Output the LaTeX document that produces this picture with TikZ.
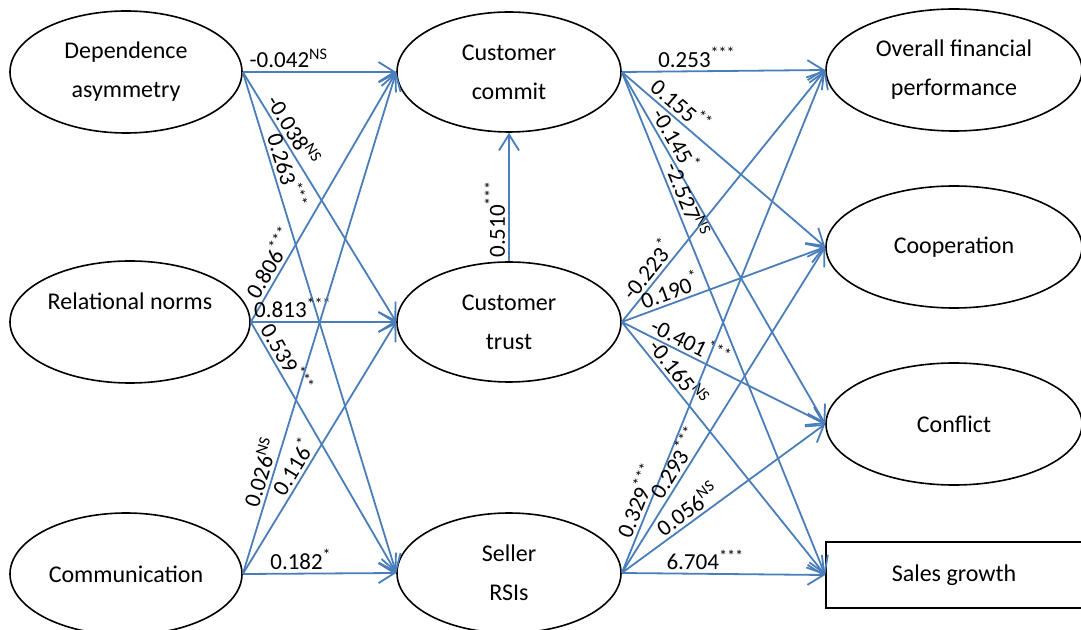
\documentclass[tikz,border=0pt]{standalone}
\usepackage{fontspec}
\setmainfont{Carlito}
\usetikzlibrary{arrows.meta,shapes.geometric}
\definecolor{pathblue}{RGB}{74,126,187}

\begin{document}
\begin{tikzpicture}[x=0.5pt,y=-0.5pt]

\tikzset{vertex/.style = {shape=ellipse,draw,line width=0.8pt,inner sep=0pt,minimum width=116pt,minimum height=61pt,align=center,font=\fontsize{12}{19.5}\selectfont}}
\tikzset{box/.style = {shape=rectangle,draw,line width=0.8pt,inner sep=0pt,minimum width=128pt,minimum height=33pt,font=\fontsize{12}{19.5}\selectfont}}
\tikzset{edge/.style = {-{Straight Barb[length=8pt,width=10pt]},draw=pathblue,line width=0.9pt}}
\tikzset{coef/.style = {sloped,above,inner sep=1.5pt,font=\fontsize{11.5}{14}\selectfont}}

\useasboundingbox (0,0) rectangle (1081,630);

% vertices
\node[vertex] (da) at (126,72) {Dependence\\asymmetry};
\node[vertex,minimum width=120pt,text height=8pt,text depth=20pt] (rn) at (130,322) {Relational norms};
\node[vertex] (cm) at (126,574) {Communication};

\node[vertex,minimum width=112pt,minimum height=60pt] (cc) at (509,72) {Customer\\commit};
\node[vertex,minimum width=112pt,minimum height=60pt] (ct) at (509,322) {Customer\\trust};
\node[vertex,minimum width=112pt,minimum height=60pt] (sr) at (509,573) {Seller\\RSIs};

\node[vertex,minimum width=128pt] (of) at (954,70) {Overall financial\\performance};
\node[vertex,minimum width=128pt] (co) at (954,247) {Cooperation};
\node[vertex,minimum width=128pt] (cf) at (954,424) {Conflict};
\node[box] (sg) at (954,575) {Sales growth};

% antecedents
\draw[edge] (da.east) to node[coef,pos=0.30] {-0.042\textsuperscript{NS}} (cc.west);
\draw[edge] (da.east) to node[coef,pos=0.26] {-0.038\textsuperscript{NS}} (ct.west);
\draw[edge] (da.east) to node[coef,pos=0.205] {0.263\textsuperscript{***}} (sr.west);
\draw[edge] (rn.east) to node[coef,pos=0.21] {0.806\textsuperscript{***}} (cc.west);
\draw[edge] (rn.east) to node[coef,pos=0.29] {0.813\textsuperscript{***}} (ct.west);
\draw[edge] (rn.east) to node[coef,pos=0.17] {0.539\textsuperscript{***}} (sr.west);
\draw[edge] (cm.east) to node[coef,pos=0.195] {0.026\textsuperscript{NS}} (cc.west);
\draw[edge] (cm.east) to node[coef,pos=0.40] {0.116\textsuperscript{*}} (ct.west);
\draw[edge] (cm.east) to node[coef,pos=0.38] {0.182\textsuperscript{*}} (sr.west);

\draw[edge] (ct.north) to node[coef,pos=0.33] {0.510\textsuperscript{***}} (cc.south);

% outcomes
\draw[edge] (cc.east) to node[coef,pos=0.37] {0.253\textsuperscript{***}} (of.west);
\draw[edge] (cc.east) to node[coef,pos=0.25] {0.155\textsuperscript{**}} (co.west);
\draw[edge] (cc.east) to node[coef,pos=0.21] {-0.145\textsuperscript{*}} (cf.west);
\draw[edge] (cc.east) to node[coef,pos=0.264] {-2.527\textsuperscript{NS}} (sg.west);
\draw[edge] (ct.east) to node[coef,pos=0.176] {-0.223\textsuperscript{*}} (of.west);
\draw[edge] (ct.east) to node[coef,pos=0.26] {0.190\textsuperscript{*}} (co.west);
\draw[edge] (ct.east) to node[coef,pos=0.31] {-0.401\textsuperscript{***}} (cf.west);
\draw[edge] (ct.east) to node[coef,pos=0.23] {-0.165\textsuperscript{NS}} (sg.west);
\draw[edge] (sr.east) to node[coef,pos=0.134] {0.329\textsuperscript{***}} (of.west);
\draw[edge] (sr.east) to node[coef,pos=0.316] {0.293\textsuperscript{***}} (co.west);
\draw[edge] (sr.east) to node[coef,pos=0.36] {0.056\textsuperscript{NS}} (cf.west);
\draw[edge] (sr.east) to node[coef,pos=0.41] {6.704\textsuperscript{***}} (sg.west);

\end{tikzpicture}
\end{document}
